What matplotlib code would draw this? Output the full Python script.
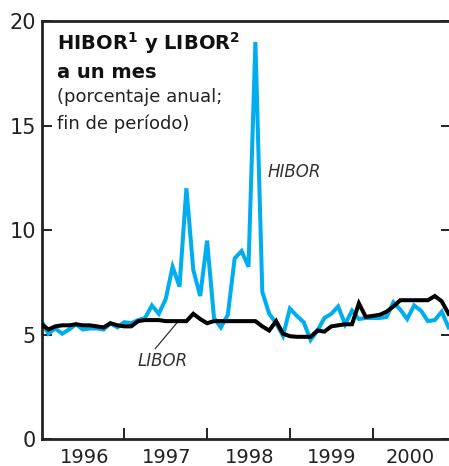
import matplotlib
matplotlib.use("Agg")
import matplotlib.pyplot as plt

# Datos mensuales, enero 1996 - diciembre 2000 (fin de período, % anual)
months = list(range(60))
hibor = [5.65, 5.05, 5.3, 5.05, 5.25, 5.5, 5.25, 5.3, 5.3, 5.25, 5.55, 5.35,
         5.6, 5.55, 5.7, 5.8, 6.4, 6.0, 6.7, 8.25, 7.3, 12.0, 8.1, 6.85,
         9.5, 5.8, 5.35, 5.95, 8.65, 9.0, 8.25, 19.0, 7.05, 6.0, 5.55, 4.95,
         6.25, 5.9, 5.6, 4.75, 5.2, 5.8, 6.0, 6.35, 5.5, 6.15, 5.75, 5.8,
         5.8, 5.8, 5.85, 6.55, 6.2, 5.75, 6.4, 6.15, 5.65, 5.7, 6.1, 5.35]
libor = [5.5, 5.25, 5.4, 5.45, 5.45, 5.5, 5.45, 5.45, 5.4, 5.35, 5.55, 5.45,
         5.4, 5.4, 5.65, 5.7, 5.7, 5.7, 5.65, 5.65, 5.65, 5.65, 6.0, 5.75,
         5.55, 5.65, 5.65, 5.65, 5.65, 5.65, 5.65, 5.65, 5.4, 5.2, 5.65, 5.05,
         4.93, 4.9, 4.9, 4.9, 5.2, 5.15, 5.4, 5.45, 5.5, 5.5, 6.5, 5.85,
         5.9, 5.95, 6.1, 6.35, 6.65, 6.65, 6.65, 6.65, 6.65, 6.85, 6.6, 6.0]
years = ["1996", "1997", "1998", "1999", "2000"]
year_ticks = [12, 24, 36, 48]
year_label_pos = [6.3, 18.2, 30.1, 42.0, 53.5]
y_ticks = [0, 5, 10, 15, 20]

blue = "#00aeef"

fig = plt.figure(figsize=(4.49, 4.66), dpi=100)
ax = fig.add_axes([41.5 / 449, 26.7 / 466, 409.5 / 449, 418.3 / 466])

ax.plot(months, hibor, color=blue, lw=2.9, solid_joinstyle="miter", zorder=2)
ax.plot(months, libor, color="black", lw=2.9, solid_joinstyle="miter", zorder=3)

ax.set_xlim(0, 59.35)
ax.set_ylim(0, 20)

for s in ax.spines.values():
    s.set_linewidth(2.0)
    s.set_color("#222222")
ax.spines["right"].set_visible(False)

ax.set_yticks(y_ticks)
ax.tick_params(axis="y", direction="in", length=7, width=1.4, right=True,
               labelsize=15, pad=4, colors="#222222")
ax.set_xticks(year_ticks)
ax.set_xticklabels([])
ax.set_xticks(year_label_pos, minor=True)
ax.set_xticklabels(years, minor=True)
ax.tick_params(axis="x", which="major", direction="in", length=8, width=1.4,
               colors="#222222")
ax.tick_params(axis="x", which="minor", length=0, labelsize=14, pad=6,
               colors="#222222")

# Título
ax.text(0.038, 0.931, r"HIBOR$^\mathbf{1}$ y LIBOR$^\mathbf{2}$", transform=ax.transAxes,
        fontsize=14, fontweight="bold", va="baseline", ha="left", color="#111111")
ax.text(0.038, 0.864, "a un mes", transform=ax.transAxes,
        fontsize=14, fontweight="bold", va="baseline", ha="left", color="#111111")
ax.text(0.038, 0.806, "(porcentaje anual;", transform=ax.transAxes,
        fontsize=13, va="baseline", ha="left", color="#222222")
ax.text(0.038, 0.741, "fin de período)", transform=ax.transAxes,
        fontsize=13, va="baseline", ha="left", color="#222222")

# Etiquetas de series
ax.text(32.8, 12.8, "HIBOR", fontsize=12, style="italic", va="center",
        ha="left", color="#333333")
ax.text(17.5, 3.73, "LIBOR", fontsize=12, style="italic", va="center",
        ha="center", color="#333333")
ax.plot([16.5, 19.6], [4.34, 5.56], color="#333333", lw=0.9)

fig.savefig("out.png", dpi=100)
